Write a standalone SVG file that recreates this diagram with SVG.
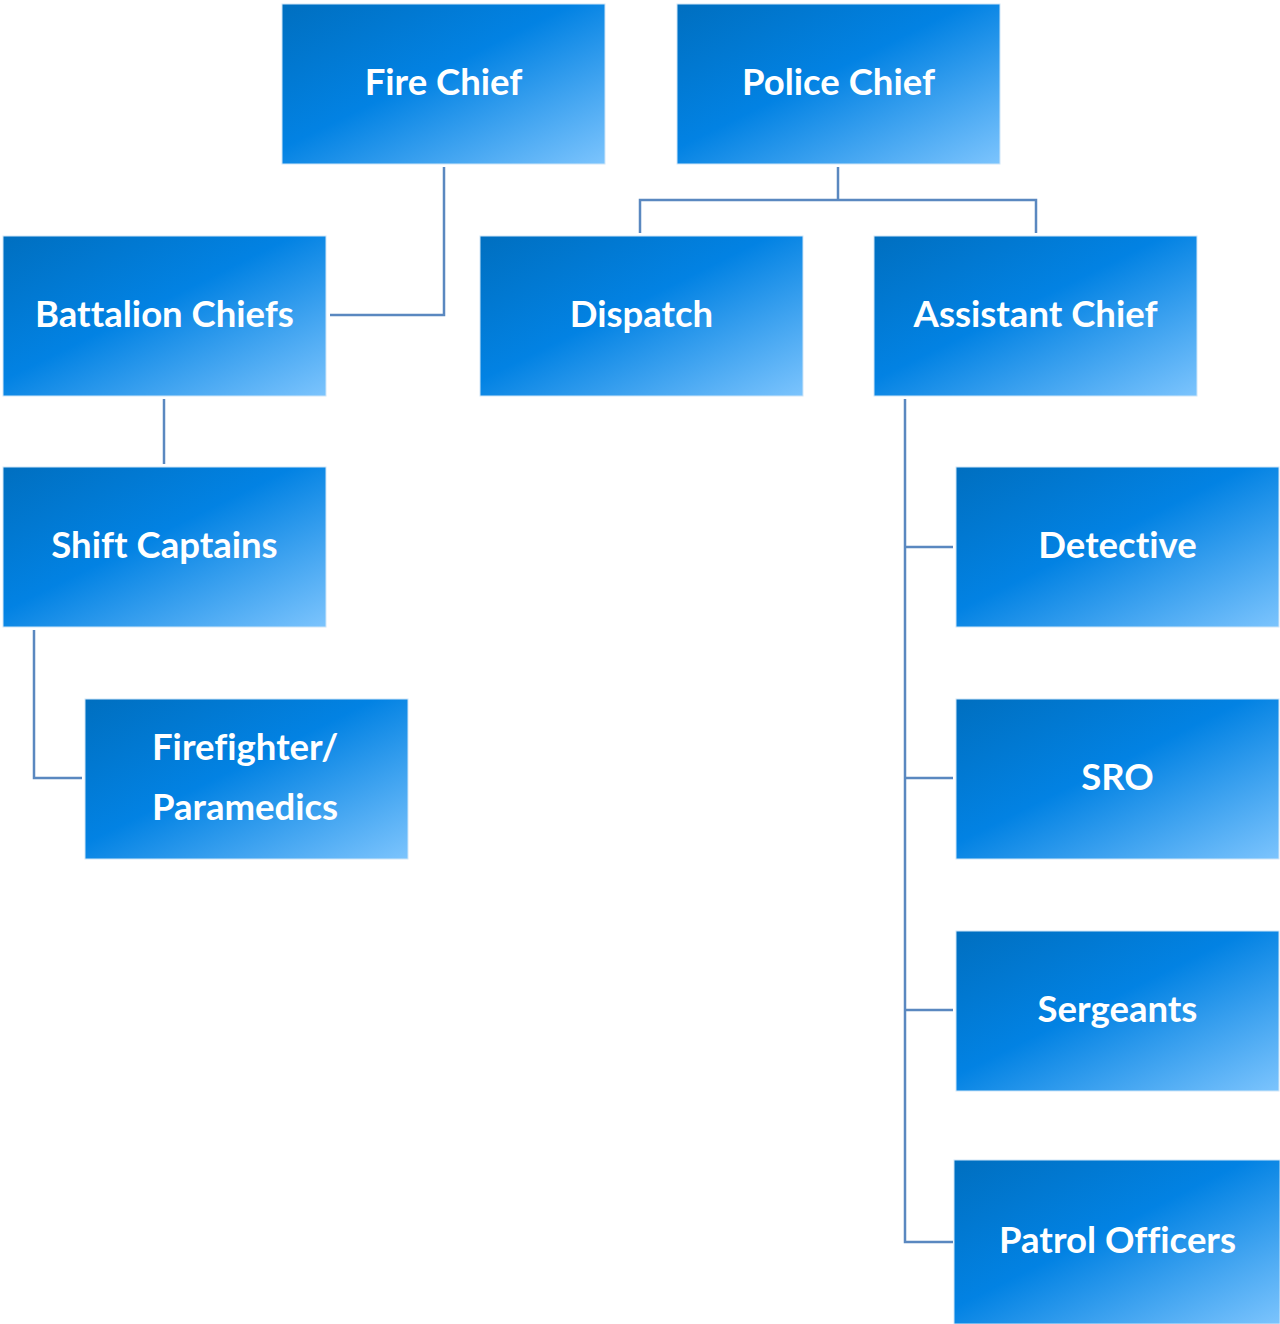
<svg xmlns="http://www.w3.org/2000/svg" width="1280" height="1324" viewBox="0 0 1280 1324">
<defs>
<linearGradient id="g" x1="0" y1="0" x2="1" y2="1">
<stop offset="0" stop-color="#006fc0"/>
<stop offset="0.45" stop-color="#0282e3"/>
<stop offset="1" stop-color="#7cc4fd"/>
</linearGradient>
</defs>
<style>
.box{fill:url(#g);stroke:#cfe6f8;stroke-width:1}
.t{font-family:Lato,"Liberation Sans",sans-serif;font-weight:bold;font-size:36.5px;fill:#fff;text-anchor:middle;font-variant-ligatures:none}
.c{fill:none;stroke:#5a88c0;stroke-width:2.5}
</style>
<g id="connectors">
<path class="c" d="M444,167 V315 H330"/>
<path class="c" d="M838,167 V200 M640,233 V200 H1036 V233"/>
<path class="c" d="M164,399 V464"/>
<path class="c" d="M34,630 V778 H82"/>
<path class="c" d="M905,399 V1242 H953 M905,547 H953 M905,778 H953 M905,1010 H953"/>
</g>
<g id="fire-chief"><rect class="box" x="282" y="4" width="323" height="160"/><text class="t" x="443.5" y="95">Fire Chief</text></g>
<g id="police-chief"><rect class="box" x="677" y="4" width="323" height="160"/><text class="t" x="838.5" y="95">Police Chief</text></g>
<g id="battalion-chiefs"><rect class="box" x="3" y="236" width="323" height="160"/><text class="t" x="164.5" y="327">Battalion Chiefs</text></g>
<g id="dispatch"><rect class="box" x="480" y="236" width="323" height="160"/><text class="t" x="641.5" y="327">Dispatch</text></g>
<g id="assistant-chief"><rect class="box" x="874" y="236" width="323" height="160"/><text class="t" x="1035.5" y="327">Assistant Chief</text></g>
<g id="shift-captains"><rect class="box" x="3" y="467" width="323" height="160"/><text class="t" x="164.5" y="558">Shift Captains</text></g>
<g id="firefighter-paramedics"><rect class="box" x="85" y="699" width="323" height="160"/><text class="t" x="152" y="760" style="text-anchor:start">Firefighter/</text><text class="t" x="152" y="820" style="text-anchor:start">Paramedics</text></g>
<g id="detective"><rect class="box" x="956" y="467" width="323" height="160"/><text class="t" x="1117.5" y="558">Detective</text></g>
<g id="sro"><rect class="box" x="956" y="699" width="323" height="160"/><text class="t" x="1117.5" y="790">SRO</text></g>
<g id="sergeants"><rect class="box" x="956" y="931" width="323" height="160"/><text class="t" x="1117.5" y="1022">Sergeants</text></g>
<g id="patrol-officers"><rect class="box" x="954" y="1160" width="326" height="164"/><text class="t" x="1117.5" y="1253">Patrol Officers</text></g>
</svg>
